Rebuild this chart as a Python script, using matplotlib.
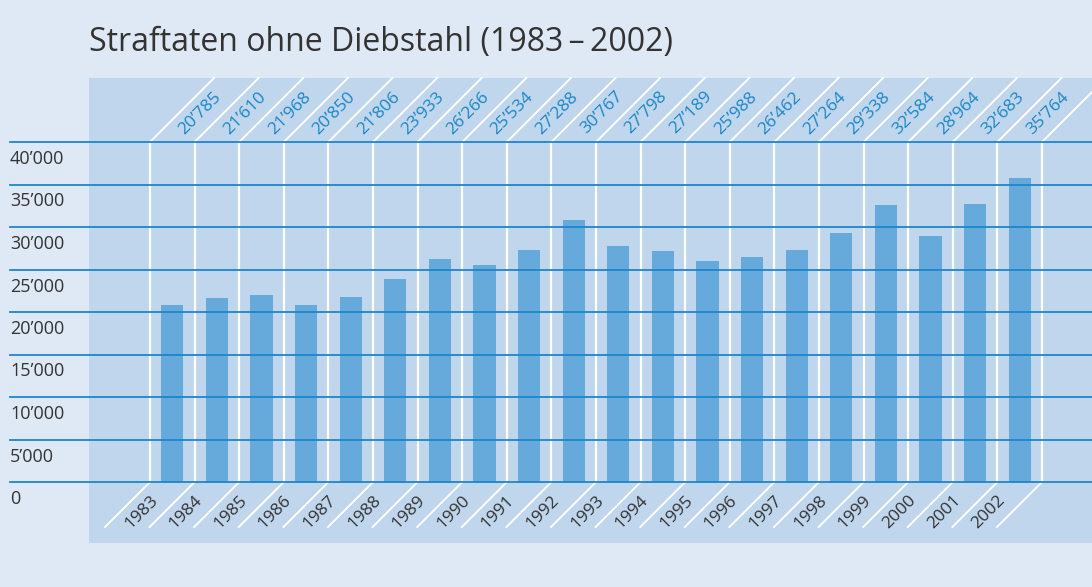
import matplotlib.pyplot as plt
from matplotlib.patches import Rectangle

plt.rcParams['font.family'] = ['Open Sans', 'DejaVu Sans']

# data
jahre = [str(j) for j in range(1983, 2003)]
werte = [20785, 21610, 21968, 20850, 21806, 23933, 26266, 25534, 27288, 30767,
         27798, 27189, 25988, 26462, 27264, 29338, 32584, 28964, 32683, 35764]
y_ticks = [0, 5000, 10000, 15000, 20000, 25000, 30000, 35000, 40000]

def fmt(v):
    return '{:,}'.format(v).replace(',', '\u2019')

# colours
fig_bg = '#dfe9f5'
panel = '#bfd6ec'
bar_c = '#66aadb'
line_c = '#1d86cb'
lab_c = '#1a86c8'
txt_c = '#333333'

W, H = 1092, 587
fig = plt.figure(figsize=(W / 100, H / 100), dpi=100)
fig.patch.set_facecolor(fig_bg)
ax = fig.add_axes([0, 0, 1, 1])
ax.set_facecolor(fig_bg)
ax.axis('off')

# pixel layout (from top-left) -> data
col_px = 44.6
x0_px = 150
y0_px = 482          # value 0
ytop_px = 142        # value 40000
ypp = (y0_px - ytop_px) / 40000.0

def X(px):
    return (px - x0_px) / col_px

def Y(py):
    return (y0_px - py) / ypp

ax.set_xlim(X(0), X(W))
ax.set_ylim(Y(H), Y(0))

# panel
ax.add_patch(Rectangle((X(89), Y(543)), X(W) - X(89), Y(78) - Y(543),
                       facecolor=panel, edgecolor='none', zorder=0))

n = len(jahre)
# separators
for k in range(n + 1):
    px = x0_px + k * col_px
    ax.plot([X(px), X(px)], [Y(ytop_px), Y(y0_px)], color='white', lw=1.6, zorder=1)
    ax.plot([X(px), X(px + 64)], [Y(ytop_px), Y(ytop_px - 64)], color='white', lw=1.4, zorder=1)
    ax.plot([X(px), X(px - 45)], [Y(y0_px), Y(y0_px + 45)], color='white', lw=1.4, zorder=1)

# bars
xs = [k + 0.5 for k in range(n)]
ax.bar(xs, werte, width=0.5, color=bar_c, zorder=2)

# gridlines
for t in y_ticks:
    ax.plot([X(10), X(W)], [t, t], color=line_c, lw=1.3, zorder=3)
    ax.text(X(10), t - 8 / ypp, fmt(t), ha='left', va='top', fontsize=13,
            color=txt_c, zorder=4)

# value labels (top) and years (bottom)
for k in range(n):
    cx = x0_px + (k + 0.5) * col_px
    ax.text(X(cx + 28), Y(113), fmt(werte[k]), rotation=45, rotation_mode='anchor',
            ha='center', va='center', fontsize=12.5, color=lab_c, zorder=4)
    ax.text(X(cx - 31), Y(512), jahre[k], rotation=45, rotation_mode='anchor',
            ha='center', va='center', fontsize=12.5, color=txt_c, zorder=4)

ax.text(X(89), Y(43), 'Straftaten ohne Diebstahl (1983\u2009\u2013\u20092002)',
        ha='left', va='center', fontsize=23, color=txt_c)

fig.savefig('out.png', dpi=100, facecolor=fig_bg)
